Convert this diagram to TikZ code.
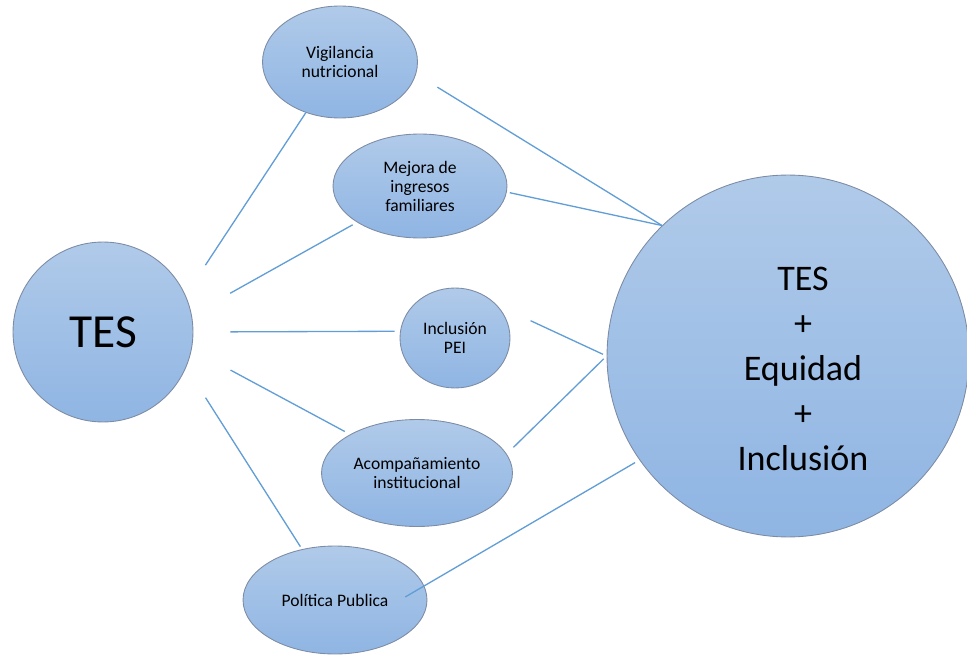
\documentclass[tikz,border=0pt]{standalone}
\usepackage{fontspec}
\setmainfont{Carlito}
\usetikzlibrary{shapes.geometric}
\definecolor{bubtop}{RGB}{176,202,233}
\definecolor{bubbot}{RGB}{143,181,227}
\definecolor{bubline}{RGB}{125,140,165}
\definecolor{lnkblue}{RGB}{98,158,214}

\begin{document}
\begin{tikzpicture}[
  x=0.02cm, y=-0.02cm,
  bub/.style={
    ellipse, draw=bubline, line width=0.5pt,
    top color=bubtop, bottom color=bubbot,
    inner sep=0pt, align=center,
    font=\fontsize{10}{10.8}\selectfont
  },
  lnk/.style={draw=lnkblue, line width=0.75pt}
]
  \useasboundingbox (0,0) rectangle (967,655);
  % left and right hubs
  \node[bub, circle, minimum size=3.6cm, font=\fontsize{27}{30}\selectfont] (tes) at (103,332){TES};
  \node[bub, circle, minimum size=7.24cm] (meta) at (788,356){};
  \node[align=center, font=\fontsize{20.5}{25.5}\selectfont] (metatxt) at (803,369){TES\\+\\Equidad\\+\\Inclusión};
  % the five actions
  \node[bub, minimum width=3.1cm, minimum height=2.24cm] (vig) at (340,62){Vigilancia\\nutricional};
  \node[bub, minimum width=3.48cm, minimum height=2.08cm] (mej) at (420,186){Mejora de\\ingresos\\familiares};
  \node[bub, minimum width=2.2cm, minimum height=2cm] (pei) at (455,338){Inclusión\\PEI};
  \node[bub, minimum width=3.82cm, minimum height=2.14cm] (acomp) at (417,473){Acompañamiento\\institucional};
  \node[bub, minimum width=3.68cm, minimum height=2.16cm] (pol) at (335,600){Política Publica};
  % connectors
  \foreach \a/\b/\s/\e in {24/vig.236/0.72/0, 11/mej.210/0.88/0.1, 0/pei.173/0.74/0.11,
      -11/acomp.150/0.88/0.12, -23/pol.123/0.72/0.06} {
    \draw[lnk, shorten <=\s cm, shorten >=\e cm] (tes.\a) -- (\b);
  }
  \draw[lnk, shorten <=0.5cm] (vig.-9) -- (meta.134);
  \draw[lnk, shorten <=0.06cm] (mej.-4) -- (meta.134);
  \draw[lnk, shorten <=0.74cm, shorten >=0.08cm] (pei.38) -- (meta.180);
  \draw[lnk, shorten <=0.19cm, shorten >=0.08cm] (acomp.12) -- (meta.180);
  \draw[lnk, shorten <=-0.44cm, shorten >=0.1cm] (pol.9) -- (meta.215);
\end{tikzpicture}
\end{document}
